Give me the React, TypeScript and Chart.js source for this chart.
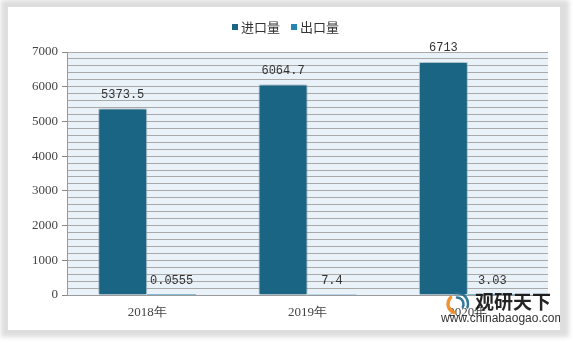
import React, { useEffect, useRef } from "react";
import { Chart, registerables } from "chart.js";

Chart.register(...registerables);

const categories = ["2018年", "2019年", "2020年"];
const importValues = [5373.5, 6064.7, 6713];
const exportValues = [0.0555, 7.4, 3.03];
const importLabels = ["5373.5", "6064.7", "6713"];
const exportLabels = ["0.0555", "7.4", "3.03"];
const seriesNames = ["进口量", "出口量"];
const yMax = 7000;

const IMPORT_COLOR = "#1b6584";
const EXPORT_COLOR = "#2586b4";

const plotBg = {
  id: "plotBg",
  beforeDraw(chart: any) {
    const { ctx, chartArea } = chart;
    ctx.save();
    ctx.fillStyle = "#e9f1f9";
    ctx.fillRect(chartArea.left, chartArea.top, chartArea.right - chartArea.left, chartArea.bottom - chartArea.top);
    ctx.restore();
  },
};

const barShadow = {
  id: "barShadow",
  beforeDatasetDraw(chart: any, args: any) {
    const ctx = chart.ctx;
    ctx.save();
    if (args.index === 0) {
      ctx.shadowColor = "rgba(0,0,0,0.35)";
      ctx.shadowBlur = 6;
      ctx.shadowOffsetX = 0;
      ctx.shadowOffsetY = 0;
    }
  },
  afterDatasetDraw(chart: any) {
    chart.ctx.restore();
  },
};

const valueLabels = {
  id: "valueLabels",
  afterDatasetsDraw(chart: any) {
    const ctx = chart.ctx;
    const lbls = [importLabels, exportLabels];
    ctx.save();
    ctx.font = "12px 'Liberation Mono', monospace";
    ctx.fillStyle = "#333";
    ctx.textAlign = "center";
    ctx.textBaseline = "middle";
    chart.data.datasets.forEach((ds: any, di: number) => {
      const meta = chart.getDatasetMeta(di);
      meta.data.forEach((el: any, i: number) => {
        ctx.fillText(lbls[di][i], el.x, el.y - 14);
      });
    });
    ctx.restore();
  },
};

const manualLegend = {
  id: "manualLegend",
  afterDraw(chart: any) {
    const ctx = chart.ctx;
    ctx.save();
    ctx.font = "13px 'Noto Sans CJK SC', sans-serif";
    ctx.textBaseline = "middle";
    ctx.fillStyle = "#333";
    const cy = 20;
    const items = [
      { x: 224, color: IMPORT_COLOR, text: seriesNames[0] },
      { x: 283, color: EXPORT_COLOR, text: seriesNames[1] },
    ];
    items.forEach((it) => {
      ctx.fillStyle = it.color;
      ctx.fillRect(it.x, cy - 3, 6, 6);
      ctx.fillStyle = "#333";
      ctx.fillText(it.text, it.x + 9, cy);
    });
    ctx.restore();
  },
};

const watermark = {
  id: "watermark",
  afterDraw(chart: any) {
    const ctx = chart.ctx;
    ctx.save();
    ctx.globalAlpha = 0.92;
    const cx = 449, cy = 297;
    ctx.lineCap = "round";
    ctx.strokeStyle = "#1f6d8f";
    ctx.lineWidth = 2.5;
    ctx.beginPath();
    ctx.arc(cx, cy, 11, -Math.PI * 0.55, Math.PI * 0.1);
    ctx.stroke();
    ctx.beginPath();
    ctx.arc(cx, cy, 6.5, -Math.PI * 0.5, Math.PI * 0.15);
    ctx.stroke();
    ctx.strokeStyle = "#f0891c";
    ctx.lineWidth = 3.5;
    ctx.beginPath();
    ctx.arc(cx, cy, 9, Math.PI * 0.6, Math.PI * 1.25);
    ctx.stroke();
    ctx.fillStyle = "#111";
    ctx.font = "bold 19px 'Noto Sans CJK SC', sans-serif";
    ctx.textBaseline = "middle";
    ctx.textAlign = "left";
    ctx.fillText("观研天下", 467, 295);
    ctx.font = "12px 'Liberation Sans', sans-serif";
    ctx.fillStyle = "#222";
    ctx.fillText("www.chinabaogao.com", 433, 312);
    ctx.restore();
  },
};

export default function App() {
  const ref = useRef<HTMLCanvasElement>(null);
  useEffect(() => {
    document.body.style.margin = "0";
    const chart = new Chart(ref.current as HTMLCanvasElement, {
      type: "bar",
      data: {
        labels: categories,
        datasets: [
          {
            label: seriesNames[0],
            data: importValues,
            backgroundColor: IMPORT_COLOR,
            borderColor: "rgba(200,225,235,0.8)",
            borderWidth: 1,
            barPercentage: 1,
            categoryPercentage: 0.61,
          },
          {
            label: seriesNames[1],
            data: exportValues,
            backgroundColor: EXPORT_COLOR,
            borderWidth: 0,
            barPercentage: 1,
            categoryPercentage: 0.61,
          },
        ],
      },
      options: {
        responsive: false,
        animation: false,
        layout: { padding: { top: 45, right: 12, left: 0, bottom: 0 } },
        plugins: {
          legend: { display: false },
          tooltip: { enabled: false },
        },
        scales: {
          x: {
            grid: { display: false, drawTicks: false },
            border: { display: true, color: "#9a9a9a" },
            ticks: {
              padding: 10,
              color: "#444",
              font: { family: "'Liberation Serif', serif", size: 13 },
            },
            afterFit(axis: any) {
              axis.height = 35;
            },
          },
          y: {
            min: 0,
            max: yMax,
            border: { display: true, color: "#9a9a9a" },
            grid: {
              color: "#a9a9a9",
              lineWidth: 1,
              drawTicks: true,
              tickLength: 5,
              tickColor: (c: any) => (c.tick && c.tick.value % 1000 === 0 ? "#888" : "rgba(0,0,0,0)"),
            },
            ticks: {
              stepSize: 200,
              autoSkip: false,
              padding: 4,
              color: "#444",
              font: { family: "'Liberation Serif', serif", size: 13 },
              callback: (v: any) => (Number(v) % 1000 === 0 ? String(v) : ""),
            },
            afterFit(axis: any) {
              axis.width = 59;
            },
          },
        },
      },
      plugins: [plotBg, barShadow, valueLabels, manualLegend, watermark],
    });
    return () => chart.destroy();
  }, []);
  return (
    <div style={{ position: "relative", width: 573, height: 343, background: "#fff", overflow: "hidden" }}>
      <div
        style={{
          position: "absolute",
          left: 1,
          top: 0,
          width: 568,
          height: 337,
          background: "#dedede",
          filter: "blur(2px)",
        }}
      />
      <div
        style={{
          position: "absolute",
          left: 8,
          top: 7,
          width: 552,
          height: 323,
          background: "#fff",
        }}
      >
        <canvas ref={ref} width={552} height={323} style={{ display: "block" }} />
      </div>
    </div>
  );
}
